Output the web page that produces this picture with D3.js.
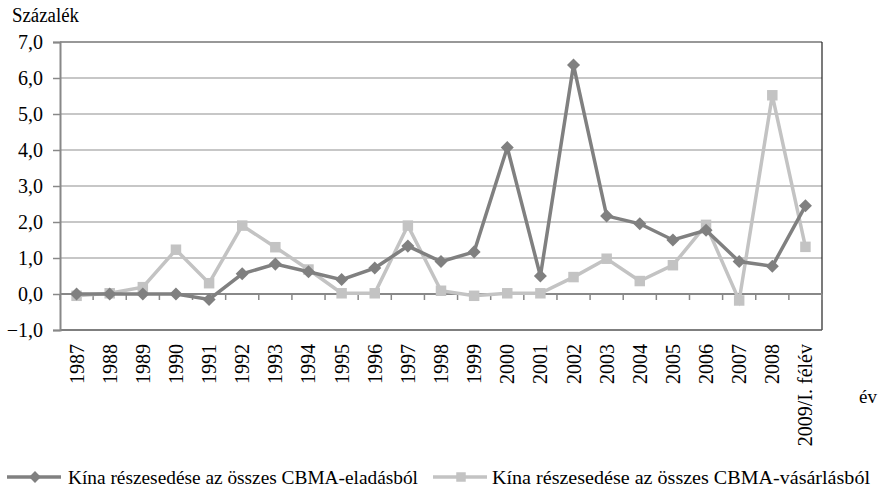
<!DOCTYPE html>
<html><head><meta charset="utf-8">
<script src="https://cdn.jsdelivr.net/npm/d3@7"></script>
<style>body{margin:0;background:#fff}svg{display:block}text{font-family:"Liberation Serif","Times New Roman",serif;fill:#000}</style>
</head><body><svg id="c" width="879" height="491" font-family="Liberation Serif, serif"></svg>
<script>
const categories = ["1987","1988","1989","1990","1991","1992","1993","1994","1995","1996","1997","1998","1999","2000","2001","2002","2003","2004","2005","2006","2007","2008","2009/I. félév"];
const sales = [0.0,0.0,0.0,0.0,-0.15,0.56,0.83,0.62,0.4,0.72,1.33,0.9,1.17,4.07,0.5,6.36,2.17,1.95,1.5,1.77,0.9,0.77,2.45];
const purchases = [-0.05,0.02,0.19,1.23,0.3,1.9,1.3,0.68,0.02,0.02,1.9,0.09,-0.05,0.02,0.02,0.47,0.98,0.36,0.8,1.92,-0.18,5.52,1.31];
const yTicks = [-1,0,1,2,3,4,5,6,7];
const seriesNames = ["Kína részesedése az összes CBMA-eladásból","Kína részesedése az összes CBMA-vásárlásból"];
const yTitle = "Százalék", xTitle = "év";
const FONT = "Liberation Serif, Times New Roman, serif";

const svg = d3.select("#c");
const L = 60, R = 822, T = 42, B = 330;
const x = d3.scaleBand().domain(categories).range([L, R]);
const y = d3.scaleLinear().domain([-1, 7]).range([B, T]);
const fmt = d => d3.format(".1f")(d).replace(".", ",");
const dark = "#808080", light = "#c3c3c3";

// gridlines
svg.append("g").selectAll("line").data(yTicks.filter(d => d > 0 && d < 7)).join("line")
  .attr("x1", L).attr("x2", R).attr("y1", d => y(d)).attr("y2", d => y(d))
  .attr("stroke", "#b4b4b4").attr("stroke-width", 1.5);
// border
svg.append("line").attr("x1", L).attr("x2", R).attr("y1", y(7)).attr("y2", y(7)).attr("stroke", "#333").attr("stroke-width", 1.2);
svg.append("line").attr("x1", R).attr("x2", R).attr("y1", y(7)).attr("y2", y(-1)).attr("stroke", "#222").attr("stroke-width", 1.2);
svg.append("line").attr("x1", L).attr("x2", R).attr("y1", y(-1)).attr("y2", y(-1)).attr("stroke", "#555").attr("stroke-width", 1.5);

// y axis
const ya = svg.append("g").attr("transform", `translate(${L},0)`)
  .call(d3.axisLeft(y).tickValues(yTicks).tickFormat(fmt).tickSize(7).tickPadding(10));
ya.attr("font-family", FONT);
ya.select(".domain").attr("stroke", "#888").attr("stroke-width", 2);
ya.selectAll(".tick line").attr("stroke", "#888").attr("stroke-width", 1.5);
ya.selectAll("text").attr("font-size", 20).attr("font-family", FONT).attr("fill", "#000");

// zero axis with category ticks
const boundaries = d3.range(categories.length + 1).map(i => L + i * x.step());
svg.append("line").attr("x1", L).attr("x2", R).attr("y1", y(0)).attr("y2", y(0)).attr("stroke", "#888").attr("stroke-width", 2);
svg.append("g").selectAll("line").data(boundaries).join("line")
  .attr("x1", d => d).attr("x2", d => d).attr("y1", y(0)).attr("y2", y(0) + 6)
  .attr("stroke", "#888").attr("stroke-width", 1.5);

// x labels
svg.append("g").selectAll("text").data(categories).join("text")
  .attr("transform", d => `translate(${x(d) + x.bandwidth() / 2 + 7},${B + 14}) rotate(-90)`)
  .attr("text-anchor", "end").attr("font-size", 20).attr("font-family", FONT).text(d => d);

// titles
svg.append("text").attr("x", 12).attr("y", 22).attr("font-size", 20).attr("font-family", FONT)
  .attr("textLength", 67).attr("lengthAdjust", "spacingAndGlyphs").text(yTitle);
svg.append("text").attr("x", 859).attr("y", 403).attr("font-size", 19).attr("font-family", FONT).text(xTitle);

const cx = d => x(d) + x.bandwidth() / 2;
const line = d3.line().x((d, i) => cx(categories[i])).y(d => y(d));

function drawSeries(vals, color, shape) {
  svg.append("path").datum(vals).attr("d", line).attr("fill", "none")
    .attr("stroke", color).attr("stroke-width", 3.5).attr("stroke-linejoin", "miter");
  svg.append("g").selectAll("path").data(vals).join("path")
    .attr("transform", (d, i) => `translate(${cx(categories[i])},${y(d)})` + (shape === "diamond" ? " rotate(45)" : ""))
    .attr("d", d3.symbol().type(d3.symbolSquare).size(shape === "diamond" ? 85 : 110)())
    .attr("fill", color);
}
drawSeries(purchases, light, "square");
drawSeries(sales, dark, "diamond");

// legend
const legY = 477;
const leg = [
  {x: 7, tx: 68, w: 350, name: seriesNames[0], color: dark, shape: "diamond"},
  {x: 433, tx: 492, w: 378, name: seriesNames[1], color: light, shape: "square"}
];
leg.forEach(l => {
  svg.append("line").attr("x1", l.x).attr("x2", l.x + 54).attr("y1", legY).attr("y2", legY).attr("stroke", l.color).attr("stroke-width", 3.5);
  svg.append("path").attr("transform", `translate(${l.x + 28},${legY})` + (l.shape === "diamond" ? " rotate(45)" : ""))
    .attr("d", d3.symbol().type(d3.symbolSquare).size(l.shape === "diamond" ? 70 : 90)()).attr("fill", l.color);
  svg.append("text").attr("x", l.tx).attr("y", legY + 7).attr("font-size", 19).attr("font-family", FONT)
    .attr("textLength", l.w).attr("lengthAdjust", "spacingAndGlyphs").text(l.name);
});
</script></body></html>
